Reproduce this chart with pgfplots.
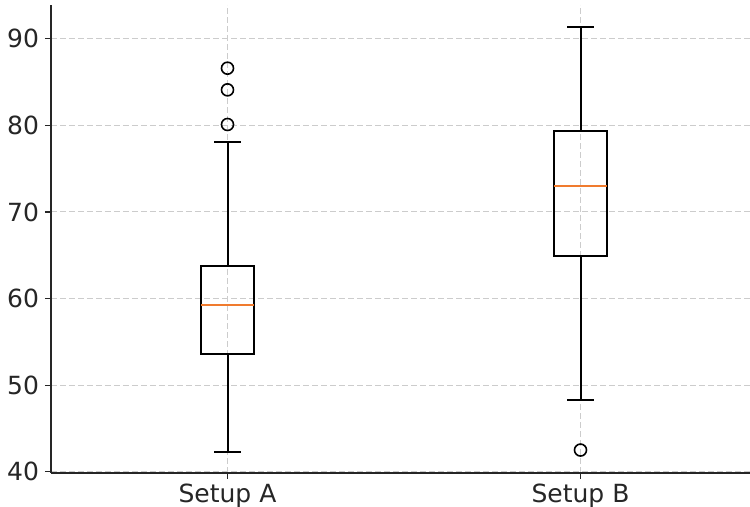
\documentclass[border=0pt]{standalone}
\usepackage{pgfplots}
\pgfplotsset{compat=1.18}
\usepgfplotslibrary{statistics}
\usepackage{fontspec}
\setmainfont{DejaVu Sans}
\definecolor{txt}{HTML}{262626}
\definecolor{med}{HTML}{F07B2E}
\definecolor{gridc}{HTML}{CCCCCC}
\pgfplotsset{
  boxplot/every whisker/.style={black, line width=1pt},
  boxplot/every median/.style={med, line width=1pt},
  boxplot/every box/.style={black, line width=1pt},
}
\begin{document}
\begin{tikzpicture}
\useasboundingbox (-25.5pt,-17pt) rectangle (349.5pt,236.5pt);
\begin{axis}[
  scale only axis, width=353pt, height=234pt,
  xmin=0.5, xmax=2.5, ymin=39.85, ymax=93.9,
  axis x line*=bottom, axis y line*=left,
  axis line style={txt, line width=0.8pt, -},
  xtick={1,2}, xticklabels={Setup A, Setup B},
  ytick={40,50,60,70,80,90},
  tick align=outside, major tick length=3pt,
  tick style={txt, line width=0.6pt},
  every tick label/.append style={font=\fontsize{12.5}{15}\selectfont, text=txt},
  /pgf/number format/assume math mode=true,
  xticklabel style={yshift=1pt},
  yticklabel style={xshift=0.5pt},
  grid=major,
  major grid style={gridc, dashed, line width=0.5pt, dash pattern=on 3pt off 1.5pt},
  clip=false,
  boxplot/draw direction=y,
]
\addplot[boxplot prepared={lower whisker=42.3, lower quartile=53.6, median=59.3,
  upper quartile=63.7, upper whisker=78.1, draw position=1, box extend=0.15, whisker extend=0.075},
  draw=black, line width=1pt, solid, mark=o, mark size=3pt,
  mark options={black, line width=0.8pt, solid}]
  coordinates {(0,86.6) (0,84.1) (0,80.1)};
\addplot[boxplot prepared={lower whisker=48.3, lower quartile=64.9, median=73.0,
  upper quartile=79.4, upper whisker=91.4, draw position=2, box extend=0.15, whisker extend=0.075},
  draw=black, line width=1pt, solid, mark=o, mark size=3pt,
  mark options={black, line width=0.8pt, solid}]
  coordinates {(0,42.5)};
\end{axis}
\end{tikzpicture}
\end{document}
